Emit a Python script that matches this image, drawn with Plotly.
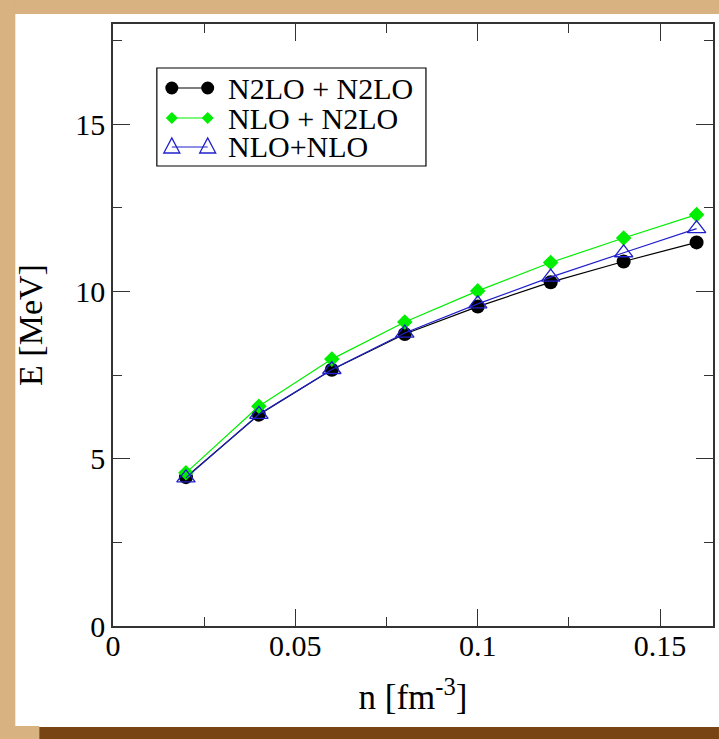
import plotly.graph_objects as go

# ---- data ----
density = [0.02, 0.04, 0.06, 0.08, 0.10, 0.12, 0.14, 0.16]
e_n2lo_n2lo = [4.45, 6.32, 7.66, 8.73, 9.55, 10.28, 10.90, 11.47]
e_nlo_n2lo = [4.58, 6.57, 7.98, 9.09, 10.02, 10.87, 11.60, 12.30]
e_nlo_nlo = [4.43, 6.33, 7.67, 8.76, 9.63, 10.43, 11.16, 11.88]
series_names = ["N2LO + N2LO", "NLO + N2LO", "NLO+NLO"]
x_ticks = [0, 0.05, 0.1, 0.15]
x_tick_labels = ["0", "0.05", "0.1", "0.15"]
y_ticks = [0, 5, 10, 15]
y_tick_labels = ["0", "5", "10", "15"]

W, H = 719, 739
L, R, T, B = 113, 4, 24, 113
PW, PH = W - L - R, H - T - B

def px(x):
    return (x - L) / PW

def py(y):
    return (H - B - y) / PH

FONT = "'Liberation Serif', 'Times New Roman', 'DejaVu Serif', serif"
TAN = "#D8B280"
BROWN = "#784414"
BLACK = "black"
GREEN = "#00EE00"
BLUE = "#2020CC"

fig = go.Figure()
fig.add_trace(go.Scatter(x=density, y=e_n2lo_n2lo, name=series_names[0], mode="lines+markers",
                         line=dict(color=BLACK, width=1.2),
                         marker=dict(symbol="circle", size=14, color=BLACK)))
fig.add_trace(go.Scatter(x=density, y=e_nlo_n2lo, name=series_names[1], mode="lines+markers",
                         line=dict(color=GREEN, width=1.2),
                         marker=dict(symbol="diamond", size=12, color=GREEN)))
fig.add_trace(go.Scatter(x=density, y=e_nlo_nlo, name=series_names[2], mode="lines+markers",
                         line=dict(color=BLUE, width=1.2),
                         marker=dict(symbol="triangle-up-open", size=16, color=BLUE,
                                     line=dict(width=1.3, color=BLUE))))

shapes = []
# background frame: tan bands (top, left, bottom-left) and brown bottom bar
def band(x0, x1, y0, y1, color):
    return dict(type="rect", xref="paper", yref="paper", layer="below",
                x0=px(x0), x1=px(x1), y0=py(y0), y1=py(y1),
                fillcolor=color, line=dict(width=0))

shapes.append(band(-2, W + 2, -2, 14, TAN))
shapes.append(band(-2, 15, -2, H + 2, TAN))
shapes.append(band(-2, 39, 726, H + 2, TAN))
shapes.append(band(39, W + 2, 727, H + 2, BROWN))

# custom legend
shapes.append(dict(type="rect", xref="paper", yref="paper",
                   x0=px(157), x1=px(427), y0=py(68), y1=py(166),
                   fillcolor="white", line=dict(color="black", width=1.2)))
rows_y = [88, 118, 147]
mx0, mx1 = 172, 208
colors = [BLACK, GREEN, BLUE]
annotations = []
for i, (yy, col) in enumerate(zip(rows_y, colors)):
    shapes.append(dict(type="line", xref="paper", yref="paper",
                       x0=px(mx0), x1=px(mx1), y0=py(yy), y1=py(yy),
                       line=dict(color=col, width=1.2)))
    for cx in (mx0, mx1):
        if i == 0:
            shapes.append(dict(type="circle", xref="paper", yref="paper",
                               xsizemode="pixel", ysizemode="pixel",
                               xanchor=px(cx), yanchor=py(yy),
                               x0=-6.5, x1=6.5, y0=-6.5, y1=6.5,
                               fillcolor=col, line=dict(color=col, width=0)))
        elif i == 1:
            shapes.append(dict(type="path", xref="paper", yref="paper",
                               xsizemode="pixel", ysizemode="pixel",
                               xanchor=px(cx), yanchor=py(yy),
                               path="M -6 0 L 0 6 L 6 0 L 0 -6 Z",
                               fillcolor=col, line=dict(color=col, width=0)))
        else:
            shapes.append(dict(type="path", xref="paper", yref="paper",
                               xsizemode="pixel", ysizemode="pixel",
                               xanchor=px(cx), yanchor=py(yy),
                               path="M -8 -6 L 8 -6 L 0 9 Z",
                               fillcolor="rgba(0,0,0,0)", line=dict(color=col, width=1.3)))
    annotations.append(dict(xref="paper", yref="paper", x=px(226), y=py(yy),
                            xanchor="left", yanchor="middle", showarrow=False,
                            text=series_names[i], font=dict(family=FONT, size=30, color="black")))

axis_common = dict(showline=True, linecolor="#333333", linewidth=1.5, mirror="ticks",
                   ticks="inside", ticklen=17, tickwidth=1.3, tickcolor="#333333",
                   showgrid=False, zeroline=False,
                   tickfont=dict(family=FONT, size=30, color="black"))

fig.update_layout(
    width=W, height=H,
    margin=dict(l=L, r=R, t=T, b=B),
    paper_bgcolor="white", plot_bgcolor="white",
    font=dict(family=FONT),
    showlegend=False,
    shapes=shapes, annotations=annotations,
    xaxis=dict(range=[0, 0.1645], tickvals=x_ticks, ticktext=x_tick_labels,
               ticklabelstandoff=-8,
               minor=dict(dtick=0.025, tick0=0, ticks="inside", ticklen=9, tickwidth=1.2, tickcolor="#333333"),
               title=dict(text="n [fm<sup>-3</sup>]", font=dict(family=FONT, size=35, color="black"), standoff=24),
               **axis_common),
    yaxis=dict(range=[0, 18], tickvals=y_ticks, ticktext=y_tick_labels,
               minor=dict(dtick=2.5, tick0=0, ticks="inside", ticklen=9, tickwidth=1.2, tickcolor="#333333"),
               title=dict(text="E [MeV]", font=dict(family=FONT, size=34, color="black"), standoff=22),
               **axis_common),
)

fig.write_html("out.html", config={"displayModeBar": False},
               post_script="document.body.style.margin='0';document.body.style.overflow='hidden';")
